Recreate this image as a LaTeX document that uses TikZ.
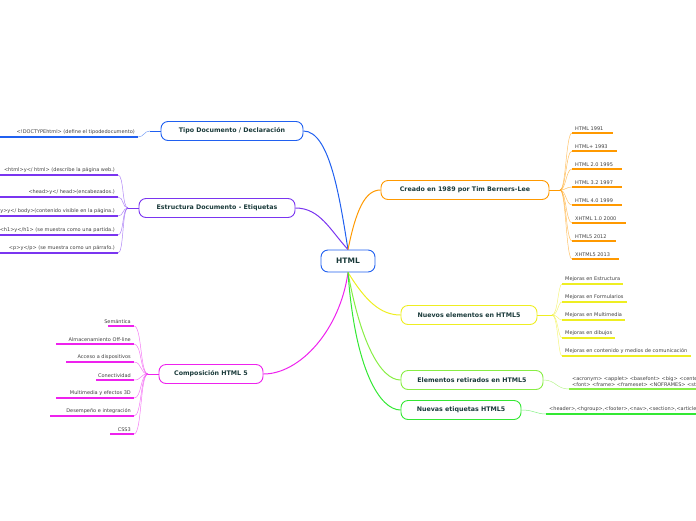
\documentclass[tikz,border=0pt]{standalone}
\usepackage{fontspec}
\setmainfont{DejaVu Sans}
\definecolor{cblue}{HTML}{2060F0}
\definecolor{cpurple}{HTML}{7A35F0}
\definecolor{cmag}{HTML}{EE22EE}
\definecolor{corange}{HTML}{FF9900}
\definecolor{cyellow}{HTML}{EEEE22}
\definecolor{clgreen}{HTML}{88EE44}
\definecolor{cgreen}{HTML}{33E833}
\definecolor{ctext}{HTML}{1A3A3A}
\tikzset{
  topic/.style={draw=#1,line width=0.9pt,rounded corners=7pt,fill=white,minimum height=19pt,
    font=\fontsize{6.3}{7}\selectfont\bfseries,text=ctext,inner xsep=10pt},
  leaf/.style={font=\fontsize{5}{6}\selectfont,text=black!75,inner xsep=3pt,inner ysep=2pt,align=left},
  uline/.style={draw=#1,line width=1.3pt},
  link/.style={draw=#1,line width=0.5pt,opacity=0.6},
}
\begin{document}
\begin{tikzpicture}[x=1pt,y=-1pt]
\useasboundingbox (0,0) rectangle (696,520);
\clip (0,0) rectangle (696,520);
% central node
\node[topic=cblue,minimum width=54pt,minimum height=22pt,font=\fontsize{7.5}{8}\selectfont\bfseries] (html) at (348,261) {HTML};
% main topics
\node[topic=cblue,minimum width=142pt] (tipo) at (232,131) {Tipo Documento / Declaración};
\node[topic=cpurple,minimum width=156pt] (estr) at (217,208) {Estructura Documento - Etiquetas};
\node[topic=cmag,minimum width=104pt] (comp) at (211,374) {Composición HTML 5};
\node[topic=corange,minimum width=168pt] (crea) at (465,190) {Creado en 1989 por Tim Berners-Lee};
\node[topic=cyellow,minimum width=136pt] (nuev) at (469,315) {Nuevos elementos en HTML5};
\node[topic=clgreen,minimum width=142pt] (reti) at (472,380) {Elementos retirados en HTML5};
\node[topic=cgreen,minimum width=120pt] (etiq) at (461,410) {Nuevas etiquetas HTML5};
% branches from the center
\draw[cblue,line width=1pt] (html.north) .. controls (340,200) and (330,131) .. (tipo.east);
\draw[cpurple,line width=1pt] (html.north) .. controls (330,230) and (320,208) .. (estr.east);
\draw[cmag,line width=1pt] (html.south) .. controls (340,330) and (300,374) .. (comp.east);
\draw[corange,line width=1pt] (html.north) .. controls (356,210) and (365,190) .. (crea.west);
\draw[cyellow,line width=1pt] (html.south) .. controls (365,300) and (380,315) .. (nuev.west);
\draw[clgreen,line width=1pt] (html.south) .. controls (360,340) and (380,380) .. (reti.west);
\draw[cgreen,line width=1pt] (html.south) .. controls (355,370) and (380,410) .. (etiq.west);
% Tipo Documento
\coordinate (jt) at (150,131);
\draw[cblue,line width=0.9pt] (tipo.west) -- (jt);
\node[leaf,anchor=south east] (t1) at (138,137) {<!DOCTYPEhtml> (define el tipodedocumento)};
\draw[link=cblue] (jt) .. controls (144,131) and (144,137) .. (t1.south east);
\draw[uline=cblue] (t1.south east) -- (0,137);
% Estructura Documento
\coordinate (je) at (128,208);
\draw[cpurple,line width=0.9pt] (estr.west) -- (je);
\foreach \y/\t [count=\i] in {175/{<html>y</ html> (describe la página web.)},
  197/{<head>y</ head>(encabezados.)},
  216/{<body>y</ body>(contenido visible en la página.)},
  235/{<h1>y</h1> (se muestra como una partida.)},
  253/{<p>y</p> (se muestra como un párrafo.)}}{
  \node[leaf,anchor=south east] (e\i) at (118,\y) {\t};
  \draw[link=cpurple] (je) .. controls (122,208) and (124,\y) .. (e\i.south east);
  \draw[uline=cpurple] (e\i.south east) -- ++(-130,0);
}
% Composicion HTML 5
\coordinate (jc) at (148,374);
\draw[cmag,line width=0.9pt] (comp.west) -- (jc);
\foreach \y/\t/\w [count=\i] in {326/Semántica/26, 344/Almacenamiento Off-line/78,
  362/Acceso a dispositivos/68, 380/Conectividad/38, 398/Multimedia y efectos 3D/78,
  416/Desempeño e integración/84, 434/CSS3/24}{
  \node[leaf,anchor=south east] (c\i) at (134,\y) {\t};
  \draw[link=cmag] (jc) .. controls (140,374) and (142,\y) .. (c\i.south east);
  \draw[uline=cmag] (c\i.south east) -- ++(-\w,0);
}
% Creado en 1989
\coordinate (jo) at (560,190);
\draw[corange,line width=0.9pt] (crea.east) -- (jo);
\foreach \y/\t [count=\i] in {133/HTML 1991, 151/HTML+ 1993, 169/HTML 2.0 1995,
  187/HTML 3.2 1997, 205/HTML 4.0 1999, 223/XHTML 1.0 2000, 241/HTML5 2012, 259/XHTML5 2013}{
  \node[leaf,anchor=south west] (o\i) at (572,\y) {\t};
  \draw[link=corange] (jo) .. controls (566,190) and (566,\y) .. (o\i.south west);
  \draw[uline=corange] (o\i.south west) -- ([xshift=6pt]o\i.south east);
}
% Nuevos elementos
\coordinate (jn) at (552,315);
\draw[cyellow,line width=0.9pt] (nuev.east) -- (jn);
\foreach \y/\t [count=\i] in {284/Mejoras en Estructura, 302/Mejoras en Formularios,
  320/Mejoras en Multimedia, 338/Mejoras en dibujos,
  356/Mejoras en contenido y medios de comunicación}{
  \node[leaf,anchor=south west] (n\i) at (562,\y) {\t};
  \draw[link=cyellow] (jn) .. controls (558,315) and (558,\y) .. (n\i.south west);
  \draw[uline=cyellow] (n\i.south west) -- (n\i.south east);
}
% Elementos retirados
\node[leaf,anchor=south west] (r1) at (569,389) {<acronym> <applet> <basefont> <big> <center> <dir>\\<font> <frame> <frameset> <NOFRAMES> <strike> <tt>};
\draw[link=clgreen] (reti.east) .. controls (556,380) and (556,389) .. (r1.south west);
\draw[uline=clgreen] (r1.south west) -- (r1.south east);
% Nuevas etiquetas
\node[leaf,anchor=south west] (g1) at (546,414) {<header>,<hgroup>,<footer>,<nav>,<section>,<article>,<aside>};
\draw[link=cgreen] (etiq.east) .. controls (534,410) and (536,414) .. (g1.south west);
\draw[uline=cgreen] (g1.south west) -- (g1.south east);
\end{tikzpicture}
\end{document}
